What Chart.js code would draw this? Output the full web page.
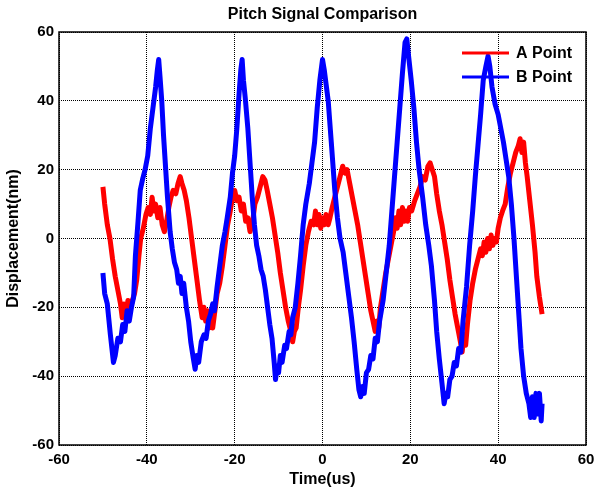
<!DOCTYPE html>
<html>
<head>
<meta charset="utf-8">
<script src="https://cdn.jsdelivr.net/npm/chart.js@4.4.1/dist/chart.umd.min.js"></script>
<style>
  html, body { margin: 0; padding: 0; background: #fff; }
</style>
</head>
<body>
<canvas id="myChart" width="594" height="493"></canvas>
<script>
// time axis (us) and displacement (nm)
var tA = [
  -50,-49.6,-49,-48.4,-47.8,-47.2,-46.6,-46,-45.6,-45.2,
  -44.8,-44.3,-43.8,-43.3,-42.8,-42.3,-41.8,-41.4,-40.8,-40.2,
  -39.7,-39.2,-38.8,-38.4,-38,-37.5,-37,-36.5,-36,-35.5,
  -35,-34.5,-34,-33.4,-32.9,-32.4,-32,-31.5,-31,-30.4,
  -29.8,-29.2,-28.6,-28,-27.4,-27,-26.6,-26.2,-25.8,-25.4,
  -25,-24.5,-24,-23.4,-22.8,-22.2,-21.6,-21,-20.5,-20,
  -19.5,-19,-18.5,-18,-17.5,-17,-16.5,-16,-15.4,-14.8,
  -14.2,-13.6,-13.1,-12.6,-12,-11.4,-10.8,-10.2,-9.6,-9,
  -8.4,-7.8,-7.2,-6.8,-6.4,-6,-5.5,-5,-4.4,-3.8,
  -3.2,-2.6,-2,-1.6,-1.2,-0.8,-0.4,0,0.4,0.8,
  1.3,1.7,2.2,2.8,3.4,4,4.6,5.1,5.6,6.2,
  6.8,7.4,8,8.6,9.2,9.8,10.4,11,11.5,12,
  12.4,12.8,13.2,13.8,14.4,15,15.6,16.2,16.6,17,
  17.4,17.8,18.2,18.6,19,19.4,19.8,20.3,21,21.6,
  22.2,22.8,23.4,24,24.5,25,25.5,26,26.6,27.2,
  27.8,28.4,29,29.6,30.2,30.8,31.4,31.8,32.2,32.6,
  33,33.6,34.2,34.8,35.4,36,36.4,36.8,37.2,37.6,
  38,38.4,38.8,39.2,39.6,40,40.5,41,41.6,42.2,
  42.8,43.4,44,44.6,45,45.4,45.8,46.2,46.6,47.2,
  47.8,48.4,48.8,49.4,50
];
var pointA = [
  15,10,4,0,-6,-11,-15,-19,-23,-19,
  -22,-18,-21,-18,-16,-12,-5,0,3,7,
  9,7,12,8,10,6,9,4,2,5,
  9,12,14,13,16,18,16,14,11,6,
  0,-6,-12,-18,-23,-20,-24,-21,-26,-22,
  -26,-21,-16,-13,-8,-2,4,8,12,14,
  11,12,8,10,5,6,2,4,10,12,
  15,18,17,14,10,6,1,-4,-10,-15,
  -20,-24,-27,-30,-27,-26,-20,-15,-8,-2,
  2,5,4,8,4,7,3,6,4,7,
  4,6,9,12,15,18,21,19,20,16,
  12,8,4,-1,-6,-11,-16,-21,-24,-27,
  -24,-26,-20,-15,-10,-6,-2,2,6,3,
  8,4,9,5,8,5,9,8,11,13,
  15,18,17,21,22,20,18,13,8,4,
  -1,-6,-12,-17,-22,-26,-30,-33,-28,-31,
  -25,-18,-13,-9,-6,-3,-5,-1,-4,0,
  -3,1,-2,0,-1,3,6,8,10,15,
  19,22,25,27,29,25,28,22,18,11,
  4,-4,-11,-17,-22
];

var tB = [
  -50,-49.6,-49,-48.3,-47.6,-47.2,-46.6,-46,-45.5,-45,
  -44.5,-44,-43.5,-43,-42.6,-42,-41.5,-41,-40.4,-39.8,
  -39.2,-38.6,-38,-37.6,-37.3,-37,-36.6,-36.2,-35.8,-35.3,
  -34.7,-34.2,-33.7,-33.2,-32.8,-32.4,-32,-31.6,-31,-30.5,
  -30,-29.4,-29,-28.6,-28.2,-27.6,-27,-26.5,-26,-25.5,
  -25,-24.6,-24,-23.4,-22.8,-22.2,-21.7,-21,-20.5,-20,
  -19.5,-19,-18.6,-18.3,-18,-17.6,-17,-16.4,-16,-15.5,
  -15,-14.5,-14,-13.5,-13,-12.5,-12,-11.5,-11,-10.7,
  -10.3,-10,-9.6,-9.2,-8.6,-8.2,-7.6,-7.2,-6.8,-6.2,
  -5.6,-5,-4.4,-3.8,-3,-2.4,-1.8,-1.2,-0.6,0,
  0.4,0.8,1.3,2,2.8,3.4,4,4.7,5.3,6,
  6.6,7.2,7.8,8.3,8.7,9.1,9.5,10,10.5,11,
  11.5,12,12.5,13,13.8,14.5,15.2,15.8,16.4,17,
  17.6,18.2,18.8,19.2,19.6,20.2,20.8,21.4,22,22.8,
  23.5,24.2,24.8,25.5,26,26.6,27.2,27.7,28.1,28.5,
  29,29.5,30,30.5,31,31.5,32,32.8,33.5,34.2,
  34.8,35.4,36,36.6,37.2,37.7,38.1,38.6,39.3,40,
  40.6,41.2,41.8,42.4,43,43.6,44.2,44.7,45.2,45.8,
  46.4,47,47.4,47.8,48.2,48.6,49,49.4,49.8,50
];
var pointB = [
  -10,-16,-19,-28,-36,-34,-29,-30,-25,-27,
  -21,-24,-20,-17,-5,5,14,17,20,24,
  32,38,44,49,52,47,40,30,22,12,
  2,-3,-7,-9,-13,-11,-16,-13,-20,-24,
  -30,-35,-38,-34,-36,-30,-28,-29,-24,-22,
  -19,-21,-14,-8,-2,2,6,12,19,24,
  32,42,49,52,46,41,32,20,12,4,
  -2,-5,-9,-11,-15,-20,-25,-29,-36,-41,
  -37,-39,-34,-36,-31,-32,-27,-28,-23,-20,
  -13,-5,4,10,16,22,28,38,46,52,
  49,45,40,28,14,6,0,-4,-10,-17,
  -23,-30,-38,-44,-46,-43,-45,-39,-38,-34,
  -35,-29,-30,-24,-18,-10,-2,8,18,28,
  38,48,57,58,53,46,38,28,20,12,
  4,-2,-8,-18,-27,-35,-42,-48,-45,-46,
  -41,-40,-36,-37,-32,-33,-24,-14,-2,8,
  18,27,36,46,50,53,50,44,39,36,
  32,28,23,18,10,0,-12,-22,-32,-40,
  -45,-48,-52,-46,-52,-45,-51,-45,-53,-48
];

var xRange = [-60, 60];
var yRange = [-60, 60];

function pairs(t, v) {
  return t.map(function (x, i) { return { x: x, y: v[i] }; });
}

var FONT = '"Liberation Sans", Arial, Helvetica, sans-serif';

// title, frame and in-plot legend (MATLAB style)
var decor = {
  id: 'decor',
  afterDraw: function (chart) {
    var ctx = chart.ctx;
    var a = chart.chartArea;
    ctx.save();
    ctx.strokeStyle = '#000';
    ctx.lineWidth = 1.5;
    ctx.strokeRect(a.left, a.top, a.right - a.left, a.bottom - a.top);

    ctx.fillStyle = '#000';
    ctx.font = 'bold 16px ' + FONT;
    ctx.textAlign = 'center';
    ctx.textBaseline = 'middle';
    ctx.fillText('Pitch Signal Comparison', (a.left + a.right) / 2, 15);

    ctx.textAlign = 'left';
    chart.data.datasets.forEach(function (ds, i) {
      var y = 53 + i * 24;
      ctx.strokeStyle = ds.borderColor;
      ctx.lineWidth = 3;
      ctx.beginPath();
      ctx.moveTo(462, y);
      ctx.lineTo(509, y);
      ctx.stroke();
      ctx.fillStyle = '#000';
      ctx.fillText(ds.label, 516, y + 1);
    });
    ctx.restore();
  }
};

var ctx = document.getElementById('myChart').getContext('2d');
var myChart = new Chart(ctx, {
  type: 'line',
  data: {
    datasets: [{
      label: 'A Point',
      data: pairs(tA, pointA),
      borderColor: '#ff0000',
      borderWidth: 5,
      borderJoinStyle: 'round',
      pointRadius: 0,
      tension: 0,
      order: 2
    }, {
      label: 'B Point',
      data: pairs(tB, pointB),
      borderColor: '#0000ff',
      borderWidth: 5,
      borderJoinStyle: 'round',
      pointRadius: 0,
      tension: 0,
      order: 1
    }]
  },
  options: {
    responsive: false,
    animation: false,
    layout: { padding: { left: 0, right: 8, top: 32, bottom: 0 } },
    plugins: {
      legend: { display: false },
      tooltip: { enabled: false }
    },
    scales: {
      x: {
        type: 'linear',
        min: xRange[0],
        max: xRange[1],
        afterFit: function (s) { s.height = 48; s.paddingLeft = 0; s.paddingRight = 0; },
        ticks: { stepSize: 20, color: '#000', padding: 6, font: { family: FONT, size: 15, weight: 'bold' } },
        grid: { color: '#000', lineWidth: 1, drawTicks: false },
        border: { display: false, dash: [1, 1] },
        title: {
          display: true,
          text: 'Time(us)',
          color: '#000',
          padding: { top: 0, bottom: 4 },
          font: { family: FONT, size: 16, weight: 'bold' }
        }
      },
      y: {
        min: yRange[0],
        max: yRange[1],
        afterFit: function (s) { s.width = 59; s.paddingTop = 0; s.paddingBottom = 0; },
        ticks: { stepSize: 20, color: '#000', padding: 5, font: { family: FONT, size: 15, weight: 'bold' } },
        grid: { color: '#000', lineWidth: 1, drawTicks: false },
        border: { display: false, dash: [1, 1] },
        title: {
          display: true,
          text: 'Displacement(nm)',
          color: '#000',
          padding: { top: 4, bottom: 0 },
          font: { family: FONT, size: 16, weight: 'bold' }
        }
      }
    }
  },
  plugins: [decor]
});
</script>
</body>
</html>
